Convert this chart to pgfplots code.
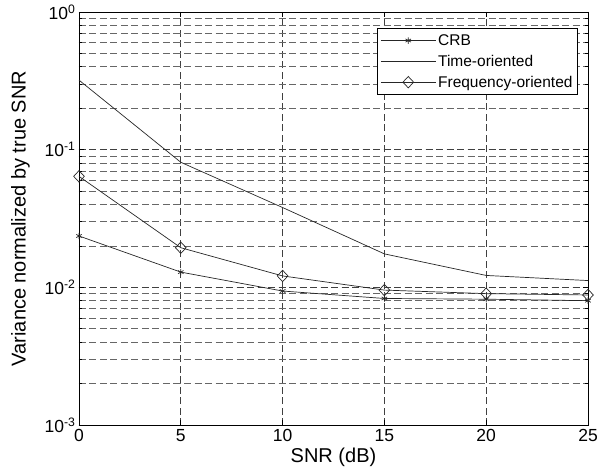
\documentclass[border=0pt]{standalone}
\usepackage{fontspec}
\setmainfont{Liberation Sans}
\usepackage{pgfplots}
\pgfplotsset{compat=1.18}
\begin{document}
\begin{tikzpicture}
\begin{axis}[
  at={(0,0)}, anchor=south west,
  scale only axis, width=509bp, height=413bp,
  ymode=log,
  xmin=0, xmax=25, ymin=1e-3, ymax=1,
  xtick={0,5,10,15,20,25},
  ytick={1e-3,1e-2,1e-1,1},
  yticklabels={10\textsuperscript{-3},10\textsuperscript{-2},10\textsuperscript{-1},10\textsuperscript{0}},
  /pgf/number format/assume math mode=true,
  tick align=inside,
  major tick length=5bp, minor tick length=3bp,
  xtick pos=both, ytick pos=both,
  grid=both,
  major grid style={black!75, dash pattern=on 7bp off 3.5bp, line width=0.6bp},
  minor grid style={black!60, dash pattern=on 7bp off 3.5bp, line width=0.6bp},
  minor x tick num=0,
  axis line style={line width=0.8bp},
  tick style={line width=0.6bp, black},
  ticklabel style={font=\fontsize{17.5bp}{20bp}\selectfont},
  xticklabel style={yshift=-1bp},
  yticklabel style={xshift=0bp},
  xlabel={SNR (dB)},
  ylabel={Variance normalized by true SNR},
  label style={font=\fontsize{20bp}{24bp}\selectfont},
  xlabel style={yshift=1bp},
  ylabel style={yshift=8bp},
  legend style={at={(0.980,0.961)}, anchor=north east, draw=black, line width=0.6bp, fill=white,
    font=\fontsize{15.5bp}{18bp}\selectfont, row sep=4.2bp, inner xsep=3bp, inner ysep=4bp},
  legend cell align=left,
  legend image code/.code={\path (-4bp,0bp) -- (51bp,0bp);\draw[mark repeat=2,mark phase=2,#1] plot coordinates {(0bp,0bp) (23.5bp,0bp) (47bp,0bp)};},
  every axis plot/.append style={line width=0.7bp, black!85},
]
\addplot[mark=asterisk, mark size=3.2bp, mark options={solid, line width=0.7bp}] coordinates {
(0,0.0236) (5,0.0129) (10,0.0094) (15,0.0083) (20,0.0082) (25,0.0080)};
\addlegendentry{CRB}
\addplot[no marks] coordinates {
(0,0.32) (5,0.081) (10,0.038) (15,0.0175) (20,0.0122) (25,0.0112)};
\addlegendentry{Time-oriented}
\addplot[mark=diamond, mark size=5.7bp, mark options={solid, line width=0.7bp, fill=none, xscale=1.25}] coordinates {
(0,0.064) (5,0.0194) (10,0.0121) (15,0.00955) (20,0.0090) (25,0.0088)};
\addlegendentry{Frequency-oriented}
\end{axis}
\pgfresetboundingbox
\useasboundingbox (-79bp,-51bp) rectangle (521bp,425bp);
\end{tikzpicture}
\end{document}
